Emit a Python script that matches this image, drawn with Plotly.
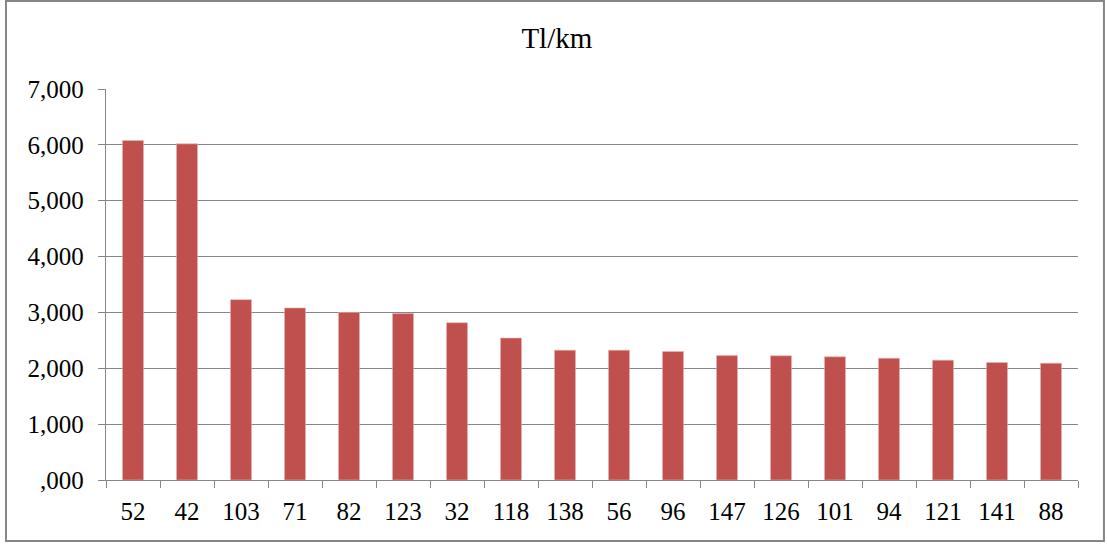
import plotly.graph_objects as go

# Route numbers along the category axis
routes = ["52", "42", "103", "71", "82", "123", "32", "118", "138",
          "56", "96", "147", "126", "101", "94", "121", "141", "88"]

# Tl/km value per route
tl_per_km = [6077, 6018, 3229, 3080, 3000, 2980, 2816, 2541, 2324,
             2324, 2300, 2227, 2224, 2206, 2180, 2145, 2103, 2090]

# Value axis ticks and their labels
y_ticks = [0, 1000, 2000, 3000, 4000, 5000, 6000, 7000]
y_tick_labels = [",000", "1,000", "2,000", "3,000", "4,000", "5,000", "6,000", "7,000"]

BAR_COLOR = "#C0504D"
LINE_COLOR = "#868686"
FONT = "Liberation Serif"

fig = go.Figure(
    go.Bar(
        x=routes,
        y=tl_per_km,
        marker=dict(color=BAR_COLOR, line=dict(color="#E4B5B4", width=0.6)),
        hoverinfo="x+y",
    )
)

fig.update_layout(
    width=1107,
    height=547,
    margin=dict(l=106, r=29, t=89, b=67),
    paper_bgcolor="white",
    plot_bgcolor="white",
    bargap=0.61,
    showlegend=False,
    font=dict(family=FONT, size=25, color="black"),
    title=dict(
        text="Tl/km",
        x=0.503,
        xref="container",
        xanchor="center",
        y=0.93,
        yref="container",
        yanchor="middle",
        font=dict(family=FONT, size=29, color="black"),
    ),
    xaxis=dict(
        type="category",
        showline=True,
        linecolor=LINE_COLOR,
        linewidth=1.4,
        ticks="outside",
        tickson="boundaries",
        ticklen=7,
        tickcolor=LINE_COLOR,
        tickwidth=1.4,
        showgrid=False,
        tickfont=dict(family=FONT, size=25, color="black"),
        ticklabelstandoff=9,
    ),
    yaxis=dict(
        range=[0, 7000],
        tickvals=y_ticks,
        ticktext=y_tick_labels,
        showline=True,
        linecolor=LINE_COLOR,
        linewidth=1.4,
        ticks="outside",
        ticklen=7,
        tickcolor=LINE_COLOR,
        tickwidth=1.4,
        showgrid=True,
        gridcolor=LINE_COLOR,
        gridwidth=1.4,
        zeroline=False,
        tickfont=dict(family=FONT, size=25, color="black"),
        ticklabelstandoff=9,
    ),
)

# Frame around the whole chart
fig.add_shape(
    type="rect",
    xref="paper",
    yref="paper",
    x0=-0.1029,
    x1=1.0267,
    y0=-0.156,
    y1=1.225,
    line=dict(color=LINE_COLOR, width=2),
    fillcolor="rgba(0,0,0,0)",
    layer="below",
)

fig.write_html("out.html")
